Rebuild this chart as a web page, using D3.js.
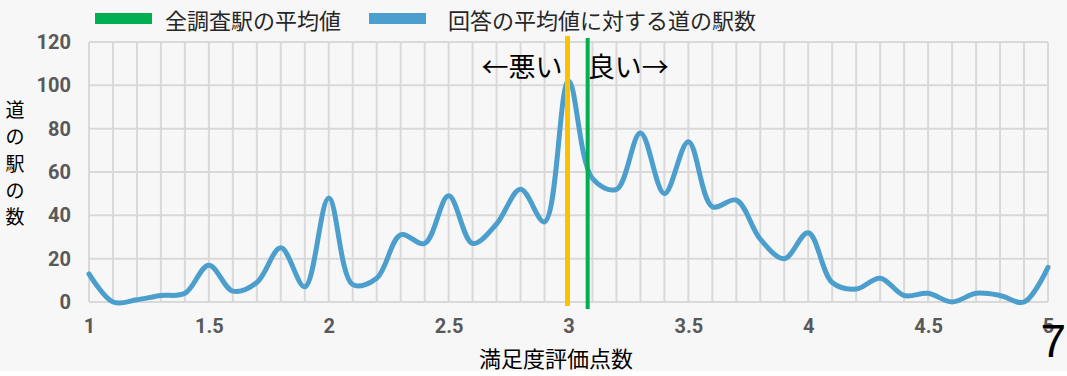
<!DOCTYPE html>
<html>
<head>
<meta charset="utf-8">
<script src="https://cdn.jsdelivr.net/npm/d3@7"></script>
<style>
  html, body { margin: 0; padding: 0; background: #ffffff; }
  svg { display: block; }
</style>
</head>
<body>
<svg id="chart" width="1067" height="376"></svg>
<script>
// Satisfaction score (x) and number of roadside stations (y)
const scores = [1.0, 1.1, 1.2, 1.3, 1.4, 1.5, 1.6, 1.7, 1.8, 1.9,
                2.0, 2.1, 2.2, 2.3, 2.4, 2.5, 2.6, 2.7, 2.8, 2.9,
                3.0, 3.1, 3.2, 3.3, 3.4, 3.5, 3.6, 3.7, 3.8, 3.9,
                4.0, 4.1, 4.2, 4.3, 4.4, 4.5, 4.6, 4.7, 4.8, 4.9, 5.0];
const stationCounts = [13, 0, 1, 3, 4, 17, 5, 9, 25, 7,
                       48, 8, 11, 31, 27, 49, 27, 36, 52, 37,
                       102, 57, 52, 78, 50, 74, 44, 47, 29, 20,
                       32, 9, 6, 11, 3, 4, 0, 4, 3, 0, 16];
const overallMean = 3.08;   // 全調査駅の平均値
const midpoint = 3.0;       // 悪い / 良い の境目
const xTicks = [1, 1.5, 2, 2.5, 3, 3.5, 4, 4.5, 5];
const yTicks = [0, 20, 40, 60, 80, 100, 120];
const legendLabels = ["全調査駅の平均値", "回答の平均値に対する道の駅数"];

const svg = d3.select("#chart");
const W = 1067;
const m = { left: 89, right: 1048, top: 42, bottom: 302 };

svg.append("rect").attr("x", 0).attr("y", 0).attr("width", W).attr("height", 371)
  .attr("fill", "#f7f7f7");

const x = d3.scaleLinear().domain([1, 5]).range([m.left, m.right]);
const y = d3.scaleLinear().domain([0, 120]).range([m.bottom, m.top]);

const gridColor = "#d9d9d9";
const grid = svg.append("g");
// vertical grid every 0.1
d3.range(0, 41).map(i => 1 + i * 0.1).forEach(v => {
  grid.append("line").attr("x1", x(v)).attr("x2", x(v))
    .attr("y1", y(120)).attr("y2", y(0))
    .attr("stroke", gridColor).attr("stroke-width", 2);
});
yTicks.forEach(v => {
  grid.append("line").attr("x1", x(1)).attr("x2", x(5))
    .attr("y1", y(v)).attr("y2", y(v))
    .attr("stroke", gridColor).attr("stroke-width", 2);
});

const tickFont = "Roboto, 'DejaVu Sans', sans-serif";
// y axis
const yAxis = svg.append("g").attr("transform", `translate(${x(1)},0)`)
  .call(d3.axisLeft(y).tickValues(yTicks).tickSize(0).tickPadding(18));
yAxis.select(".domain").remove();
yAxis.selectAll("text").attr("font-family", tickFont).attr("font-weight", "bold")
  .attr("font-size", 20).attr("fill", "#595959");

// x axis
const xAxis = svg.append("g").attr("transform", `translate(0,${y(0)})`)
  .call(d3.axisBottom(x).tickValues(xTicks).tickSize(0).tickPadding(17)
    .tickFormat(d => String(d)));
xAxis.select(".domain").remove();
xAxis.selectAll("text").attr("font-family", tickFont).attr("font-weight", "bold")
  .attr("font-size", 20).attr("fill", "#595959");

// data line
const line = d3.line()
  .x((d, i) => x(scores[i]))
  .y(d => y(d))
  .curve(d3.curveCatmullRom.alpha(0.5));
svg.append("path").datum(stationCounts)
  .attr("d", line)
  .attr("fill", "none")
  .attr("stroke", "#4c9fcd")
  .attr("stroke-width", 5)
  .attr("stroke-linecap", "round")
  .attr("stroke-linejoin", "round");

// reference lines
svg.append("line").attr("x1", x(midpoint) - 1).attr("x2", x(midpoint) - 1)
  .attr("y1", 36).attr("y2", 306)
  .attr("stroke", "#ffc000").attr("stroke-width", 5);
svg.append("line").attr("x1", x(overallMean)).attr("x2", x(overallMean))
  .attr("y1", 38).attr("y2", 309)
  .attr("stroke", "#00b050").attr("stroke-width", 4);

const cjk = "'Noto Sans CJK JP', 'Noto Sans', sans-serif";
// direction labels
svg.append("text").attr("x", x(midpoint) - 6).attr("y", 65)
  .attr("text-anchor", "end").attr("dominant-baseline", "central")
  .attr("font-family", cjk).attr("font-size", 27).attr("fill", "#000")
  .text("←悪い");
svg.append("text").attr("x", x(overallMean) + 0).attr("y", 65)
  .attr("text-anchor", "start").attr("dominant-baseline", "central")
  .attr("font-family", cjk).attr("font-size", 27).attr("fill", "#000")
  .text("良い→");

// legend
const legend = [
  { label: legendLabels[0], color: "#00b050", rx: 95, tx: 165 },
  { label: legendLabels[1], color: "#4c9fcd", rx: 369, tx: 448 }
];
legend.forEach(l => {
  svg.append("rect").attr("x", l.rx).attr("y", 13).attr("width", 57).attr("height", 11)
    .attr("fill", l.color);
  svg.append("text").attr("x", l.tx).attr("y", 19)
    .attr("dominant-baseline", "central")
    .attr("font-family", cjk).attr("font-size", 22).attr("fill", "#262626")
    .text(l.label);
});

// y axis title (stacked vertical)
const yTitle = "道の駅の数".split("");
const yTitleY = [108, 135, 162, 189, 215];
yTitle.forEach((ch, i) => {
  svg.append("text").attr("x", 15).attr("y", yTitleY[i])
    .attr("text-anchor", "middle").attr("dominant-baseline", "central")
    .attr("font-family", cjk).attr("font-size", 19).attr("fill", "#000")
    .text(ch);
});

// x axis title
svg.append("text").attr("x", 556).attr("y", 357)
  .attr("text-anchor", "middle").attr("dominant-baseline", "central")
  .attr("font-family", cjk).attr("font-size", 22).attr("fill", "#000")
  .text("満足度評価点数");

// page number
svg.append("text").attr("x", 1066).attr("y", 341)
  .attr("text-anchor", "end").attr("dominant-baseline", "central")
  .attr("font-family", "'Liberation Sans', sans-serif")
  .attr("font-size", 46).attr("fill", "#000")
  .text("7");
</script>
</body>
</html>
